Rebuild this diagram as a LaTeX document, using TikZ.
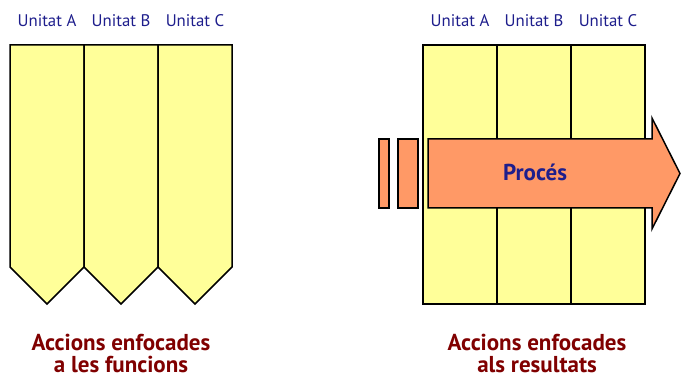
\documentclass[tikz,border=0pt]{standalone}
\usepackage{fontspec}
\setmainfont{PT Sans}
\definecolor{groc}{RGB}{255,255,153}
\definecolor{taronja}{RGB}{255,153,102}
\definecolor{blaufosc}{RGB}{30,30,140}
\definecolor{granat}{RGB}{128,0,0}
\tikzset{
  unitat/.style={text=blaufosc,font=\fontsize{16.8}{19}\selectfont},
  peu/.style={text=granat,font=\bfseries\fontsize{23}{22}\selectfont,align=center,inner sep=1pt},
  columna/.style={fill=groc,draw=black,line width=1.5pt},
  bloc/.style={fill=taronja,draw=black,line width=1.5pt}
}
\begin{document}
\begin{tikzpicture}[x=1pt,y=-1pt]
    \useasboundingbox (0,0) rectangle (681,379);
    % Columnes amb punta (esquerra)
    \draw[columna] (10,45) -- (84,45) -- (84,267) -- (47,304) -- (10,267) -- cycle;
    \draw[columna] (84,45) -- (158,45) -- (158,267) -- (121,304) -- (84,267) -- cycle;
    \draw[columna] (158,45) -- (232,45) -- (232,267) -- (195,304) -- (158,267) -- cycle;
    \node[unitat] (ua1) at (47,21) {Unitat A};
    \node[unitat] (ub1) at (121,21) {Unitat B};
    \node[unitat] (uc1) at (195,21) {Unitat C};
    \node[peu] (peu1) at (121,353) {Accions enfocades\\a les funcions};
    % Columnes rectangulars (dreta)
    \draw[columna] (423,45) rectangle (497,304);
    \draw[columna] (497,45) rectangle (571,304);
    \draw[columna] (571,45) rectangle (645,304);
    \node[unitat] (ua2) at (460,21) {Unitat A};
    \node[unitat] (ub2) at (534,21) {Unitat B};
    \node[unitat] (uc2) at (608,21) {Unitat C};
    % Fletxa del proces
    \draw[bloc] (379,139) rectangle (389,208);
    \draw[bloc] (398,139) rectangle (418,208);
    \draw[bloc] (428,139) -- (652,139) -- (652,118) -- (680,173.5) -- (652,229)
        -- (652,208) -- (428,208) -- cycle;
    \node[text=blaufosc,font=\bfseries\fontsize{23}{26}\selectfont] (proces) at (535,172) {Procés};
    \node[peu] (peu2) at (537,353) {Accions enfocades\\als resultats};
\end{tikzpicture}
\end{document}
